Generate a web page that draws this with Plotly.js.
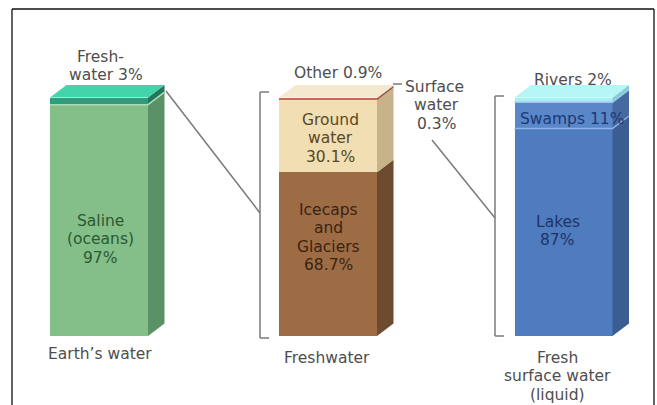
<!DOCTYPE html>
<html>
<head>
<meta charset="utf-8">
<script src="https://cdn.plot.ly/plotly-3.0.1.min.js"></script>
<style>
  html, body { margin: 0; padding: 0; background: #fff; }
  #chart { width: 657px; height: 405px; }
</style>
</head>
<body>
<div id="chart"></div>
<script>
// ---------------- DATA ----------------
const categories = ["Earth’s water", "Freshwater", "Fresh<br>surface water<br>(liquid)"];

const earthSegments = ["Saline (oceans)", "Freshwater"];
const earthValues = [97, 3];

const freshSegments = ["Icecaps and Glaciers", "Ground water", "Other", "Surface water"];
const freshValues = [68.7, 30.1, 0.9, 0.3];

const surfaceSegments = ["Lakes", "Swamps", "Rivers"];
const surfaceValues = [87, 11, 2];

// ---------------- LAYOUT / STYLE ----------------
const W = 657, H = 405;
// axis ranges chosen so that 1 data unit maps onto the picture's pixel grid
const XR = [-0.4241, 2.4047];
const YR = [-28.93, 140.88];
const xu = (XR[1] - XR[0]) / W;   // x units per pixel
const yu = (YR[1] - YR[0]) / H;   // y units per pixel
const px2x = px => XR[0] + px * xu;
const P = (px, py) => [px / W, 1 - py / H]; // pixel -> paper

const barCentersPx = [99, 328, 563.5];
const barWidthPx = 98;
const depthX = 16.5 * xu, depthY = 12.5 * yu;

const FONT = "DejaVu Sans, Verdana, sans-serif";
const GRAY = "#4e4e4e";

const bars = [
  { names: earthSegments, values: earthValues,
    front: ["#84be89", "#2f9c7b"], side: ["#5b9167", "#23765c"], top: "#42d4aa",
    seps: [{ at: 1, color: "#a9dcb5" }] },
  { names: freshSegments, values: freshValues,
    front: ["#9d6c45", "#f1deb2", "#c46b55", "#eadab6"], side: ["#6d4b2e", "#c6b38a", "#9b5241", "#c6b38a"], top: "#f4e9cf",
    seps: [] },
  { names: surfaceSegments, values: surfaceValues,
    front: ["#4f7cbf", "#5987c7", "#a9eef2"], side: ["#3b5d91", "#46699f", "#86cdd6"], top: "#b5f6f6",
    seps: [{ at: 1, color: "#8db3e6" }, { at: 2, color: "#9cc6ee" }] }
];

const traces = [];
const shapes = [];

bars.forEach((b, i) => {
  const xc = px2x(barCentersPx[i]);
  const w = barWidthPx * xu;
  const xl = xc - w / 2, xr = xc + w / 2;
  let cum = 0;
  b.values.forEach((v, j) => {
    traces.push({
      type: "bar", x: [xc], y: [v], width: w, name: b.names[j],
      marker: { color: b.front[j], line: { width: 0 } },
      hoverinfo: "name+y", showlegend: false
    });
    const y0 = cum, y1 = cum + v;
    // side face of this segment
    shapes.push({
      type: "path", xref: "x", yref: "y", layer: "above",
      path: `M${xr},${y0} L${xr + depthX},${y0 + depthY} L${xr + depthX},${y1 + depthY} L${xr},${y1} Z`,
      fillcolor: b.side[j], line: { width: 0 }
    });
    cum = y1;
  });
  // top face
  shapes.push({
    type: "path", xref: "x", yref: "y", layer: "above",
    path: `M${xl},${cum} L${xr},${cum} L${xr + depthX},${cum + depthY} L${xl + depthX},${cum + depthY} Z`,
    fillcolor: b.top, line: { width: 0 }
  });
  // light separators between segments
  b.seps.forEach(s => {
    const yy = b.values.slice(0, s.at).reduce((a, c) => a + c, 0);
    shapes.push({
      type: "path", xref: "x", yref: "y", layer: "above",
      path: `M${xl},${yy} L${xr},${yy} L${xr + depthX},${yy + depthY}`,
      line: { color: s.color, width: 1.5 }
    });
  });
});

// connectors, brackets and frame (decoration, in pixel -> paper coords)
const LINE = "#7a7a7a";
function seg(p1, p2, color, width) {
  const a = P(...p1), b = P(...p2);
  shapes.push({ type: "line", xref: "paper", yref: "paper", x0: a[0], y0: a[1], x1: b[0], y1: b[1],
    line: { color: color || LINE, width: width || 1.5 } });
}
// frame
seg([12, 9], [654, 9], "#111", 1.3);
seg([12, 9], [12, 405], "#111", 1.3);
seg([654, 9], [654, 405], "#111", 1.3);
// bar 1 -> bracket 2
seg([166, 91], [260, 213]);
// bracket 2
seg([260, 92], [260, 338]);
seg([260, 92], [269, 92]);
seg([260, 338], [269, 338]);
// surface water dash
seg([393, 84], [402, 84]);
// surface label -> bracket 3
seg([432, 140], [495, 218]);
// bracket 3
seg([495, 96], [495, 336]);
seg([495, 96], [504, 96]);
seg([495, 336], [504, 336]);

// ---------------- TEXT ----------------
const pct = v => v + "%";
const labels = [
  // bar 1
  { lines: ["Fresh-", "water " + pct(earthValues[1])], xs: [100, 106], y0: 57, color: GRAY },
  { lines: ["Saline", "(oceans)", pct(earthValues[0])], xs: [100, 100, 100], y0: 221, color: "#2c5a31" },
  // bar 2
  { lines: ["Other " + pct(freshValues[2])], xs: [338], y0: 73, color: GRAY },
  { lines: ["Surface", "water", pct(freshValues[3])], xs: [434, 436, 436], y0: 87, color: GRAY },
  { lines: ["Ground", "water", pct(freshValues[1])], xs: [330, 330, 330], y0: 120, color: "#5a4828" },
  { lines: ["Icecaps", "and", "Glaciers", pct(freshValues[0])], xs: [328, 328, 328, 328], y0: 210, color: "#3a2312" },
  // bar 3
  { lines: ["Rivers " + pct(surfaceValues[2])], xs: [573], y0: 80, color: GRAY },
  { lines: ["Swamps " + pct(surfaceValues[1])], xs: [572], y0: 119, color: "#1d3877" },
  { lines: ["Lakes", pct(surfaceValues[0])], xs: [558, 557], y0: 222, color: "#1d3566" },
];
// category labels under the bars
const catX = [100, 327, 557];
const catY = [354, 358, 358];
categories.forEach((c, i) => {
  const ls = c.split("<br>");
  labels.push({ lines: ls, xs: ls.map(() => catX[i]), y0: catY[i], color: GRAY });
});

const annotations = [];
labels.forEach(l => {
  l.lines.forEach((t, k) => {
    const p = P(l.xs[k], l.y0 + k * 18.3);
    annotations.push({
      xref: "paper", yref: "paper", x: p[0], y: p[1], text: t, showarrow: false,
      xanchor: "center", yanchor: "middle",
      font: { family: FONT, size: 15.5, color: l.color }
    });
  });
});

const layout = {
  width: W, height: H,
  margin: { l: 0, r: 0, t: 0, b: 0, pad: 0 },
  paper_bgcolor: "#ffffff", plot_bgcolor: "#ffffff",
  barmode: "stack", bargap: 0,
  showlegend: false,
  xaxis: { range: XR, visible: false, fixedrange: true },
  yaxis: { range: YR, visible: false, fixedrange: true },
  shapes: shapes,
  annotations: annotations
};

Plotly.newPlot("chart", traces, layout, { staticPlot: true, displayModeBar: false });
</script>
</body>
</html>
